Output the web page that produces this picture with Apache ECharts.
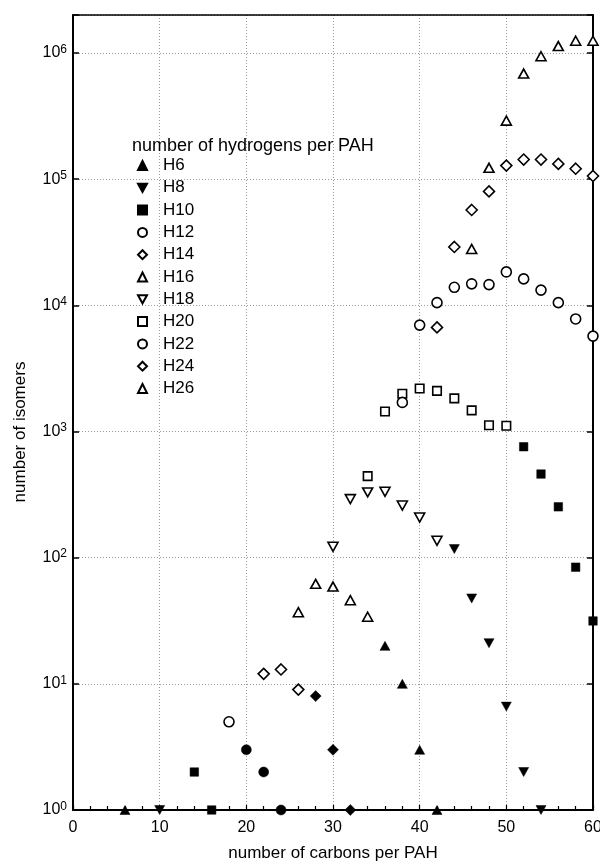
<!DOCTYPE html>
<html>
<head>
<meta charset="utf-8">
<script src="https://cdn.jsdelivr.net/npm/echarts@6/dist/echarts.min.js"></script>
<style>
html,body{margin:0;padding:0;background:#fff;}
#chart{width:600px;height:865px;}
</style>
</head>
<body>
<div id="chart"></div>
<script>
// ---- data: [carbons, isomers] ----
const H6 = [[6, 1]];
const H8 = [[10, 1]];
const H10 = [[14, 2], [16, 1]];
const H12 = [[18, 5]];
const H12filled = [[20, 3], [22, 2], [24, 1]];
const H14 = [[22, 12], [24, 13], [26, 9]];
const H14filled = [[28, 8], [30, 3], [32, 1]];
const H16 = [[26, 37], [28, 62], [30, 59], [32, 46], [34, 34]];
const H16filled = [[36, 20], [38, 10], [40, 3], [42, 1]];
const H18 = [[30, 122], [32, 291], [34, 329], [36, 333], [38, 259], [40, 208], [42, 136]];
const H18filled = [[44, 117], [46, 47.5], [48, 21], [50, 6.6], [52, 2], [54, 1]];
const H20 = [[34, 443], [36, 1440], [38, 1990], [40, 2190], [42, 2100], [44, 1830], [46, 1470], [48, 1120], [50, 1110]];
const H20filled = [[52, 757], [54, 460], [56, 253], [58, 84], [60, 31.5]];
const H22 = [[38, 1700], [40, 6970], [42, 10500], [44, 13900], [46, 14800], [48, 14600], [50, 18400], [52, 16200], [54, 13200], [56, 10500], [58, 7800], [60, 5700]];
const H24 = [[42, 6680], [44, 29000], [46, 57000], [48, 80000], [50, 128000], [52, 143000], [54, 143000], [56, 132000], [58, 121000], [60, 106000]];
const H26 = [[46, 28000], [48, 123000], [50, 291000], [52, 687000], [54, 942000], [56, 1135000], [58, 1250000], [60, 1250000]];

const legendNames = ['H6', 'H8', 'H10', 'H12', 'H14', 'H16', 'H18', 'H20', 'H22', 'H24', 'H26'];
const xTitle = 'number of carbons per PAH';
const yTitle = 'number of isomers';
const legendTitle = 'number of hydrogens per PAH';

const FONT = '"Liberation Sans", Arial, sans-serif';
const DOWN = 'path://M0,0L10,0L5,9Z';
const SYM = {
  up: {symbol: 'triangle', size: [10, 9]},
  down: {symbol: DOWN, size: [10, 9]},
  square: {symbol: 'rect', size: [8.5, 8.5]},
  circle: {symbol: 'circle', size: 10},
  diamond: {symbol: 'diamond', size: 11}
};

function mk(name, data, shape, filled) {
  const s = SYM[shape];
  return {
    name: name, type: 'scatter', data: data,
    symbol: s.symbol, symbolSize: s.size,
    clip: false,
    itemStyle: filled
      ? {color: '#000', borderColor: '#000', borderWidth: 0.5, opacity: 1}
      : {color: '#fff', borderColor: '#000', borderWidth: 1.6, opacity: 1},
    emphasis: {disabled: true},
    z: 5
  };
}

const series = [
  mk('H6', H6, 'up', true),
  mk('H8', H8, 'down', true),
  mk('H10', H10, 'square', true),
  mk('H12', H12, 'circle', false),
  mk('H14', H14, 'diamond', false),
  mk('H16', H16, 'up', false),
  mk('H18', H18, 'down', false),
  mk('H20', H20, 'square', false),
  mk('H22', H22, 'circle', false),
  mk('H24', H24, 'diamond', false),
  mk('H26', H26, 'up', false),
  mk('H12', H12filled, 'circle', true),
  mk('H14', H14filled, 'diamond', true),
  mk('H16', H16filled, 'up', true),
  mk('H18', H18filled, 'down', true),
  mk('H20', H20filled, 'square', true)
];

const gridLine = {show: true, lineStyle: {color: '#999', width: 1, type: [1, 2]}};

const chart = echarts.init(document.getElementById('chart'), null, {renderer: 'canvas'});
chart.setOption({
  backgroundColor: '#fff',
  animation: false,
  textStyle: {fontFamily: FONT, color: '#000'},
  title: {
    text: legendTitle, left: 127, top: 132,
    textStyle: {fontFamily: FONT, fontSize: 18, fontWeight: 'normal', color: '#000'}
  },
  legend: {
    data: legendNames, orient: 'vertical', left: 132, top: 152,
    itemWidth: 9, itemHeight: 9, itemGap: 5.3,
    selectedMode: false,
    textStyle: {fontFamily: FONT, fontSize: 17, color: '#000', padding: [0, 0, 0, 11]}
  },
  graphic: [{
    type: 'text', x: 20, y: 432, rotation: Math.PI / 2,
    style: {text: yTitle, font: '17px ' + FONT, fill: '#000', align: 'center', verticalAlign: 'middle'}
  }],
  grid: {left: 73, right: 7, top: 15, bottom: 55, containLabel: false, outerBoundsMode: 'none'},
  xAxis: [{
    type: 'value', min: 0, max: 60, interval: 10,
    name: xTitle, nameLocation: 'middle', nameGap: 35,
    nameTextStyle: {fontFamily: FONT, fontSize: 17, color: '#000'},
    axisLine: {show: true, onZero: false, lineStyle: {color: '#000', width: 2}},
    axisTick: {show: true, inside: true, length: 5, lineStyle: {color: '#000', width: 1.2}},
    minorTick: {show: true, splitNumber: 5, length: 4, lineStyle: {color: '#000', width: 1.2}},
    axisLabel: {fontFamily: FONT, fontSize: 16, color: '#000', margin: 10},
    splitLine: gridLine
  }, {
    type: 'value', min: 0, max: 60, interval: 10, position: 'top',
    axisLine: {show: true, lineStyle: {color: '#000', width: 1.5}},
    axisTick: {show: false}, axisLabel: {show: false}, splitLine: {show: false}
  }],
  yAxis: [{
    type: 'log', logBase: 10, min: 1, max: 2e6, interval: 1,
    axisLine: {show: true, onZero: false, lineStyle: {color: '#000', width: 2}},
    axisTick: {show: true, inside: true, length: 6, lineStyle: {color: '#000', width: 1.5}},
    axisLabel: {
      margin: 6,
      formatter: function (v) {
        const e = Math.round(Math.log10(v));
        if (Math.abs(Math.log10(v) - e) > 1e-6) return '';
        return '{b|10}{s|' + e + '}';
      },
      rich: {
        b: {fontFamily: FONT, fontSize: 16, color: '#000'},
        s: {fontFamily: FONT, fontSize: 12, color: '#000', verticalAlign: 'top', padding: [0, 0, 7, 0]}
      }
    },
    splitLine: gridLine
  }, {
    type: 'log', logBase: 10, min: 1, max: 2e6, interval: 1, position: 'right',
    axisLine: {show: true, onZero: false, lineStyle: {color: '#000', width: 2}},
    axisTick: {show: true, inside: true, length: 6, lineStyle: {color: '#000', width: 1.5}},
    axisLabel: {show: false}, splitLine: {show: false}
  }],
  series: series
});
</script>
</body>
</html>
